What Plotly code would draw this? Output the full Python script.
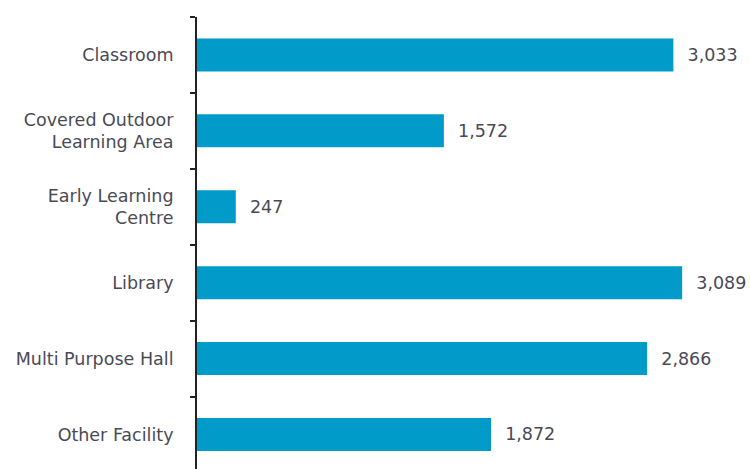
import plotly.graph_objects as go

categories = ["Classroom", "Covered Outdoor<br>Learning Area", "Early Learning<br>Centre",
              "Library", "Multi Purpose Hall", "Other Facility"]
values = [3033, 1572, 247, 3089, 2866, 1872]

fig = go.Figure(go.Bar(
    x=values,
    y=categories,
    orientation="h",
    marker=dict(color="#009BC8", line=dict(width=0)),
    width=0.435,
    texttemplate="  %{x:,}",
    textposition="outside",
    cliponaxis=False,
    textfont=dict(family="DejaVu Sans", size=17.5, color="#4a4a55"),
))

fig.update_layout(
    width=750, height=469,
    margin=dict(l=197, r=0, t=17, b=0, pad=0),
    paper_bgcolor="white", plot_bgcolor="white",
    showlegend=False,
    font=dict(family="DejaVu Sans", size=17.5, color="#4a4a55"),
    xaxis=dict(range=[0, 3521], showticklabels=False, showgrid=False,
               zeroline=False, showline=False, ticks=""),
    yaxis=dict(type="category", range=[5.455, -0.5], showline=True,
               linecolor="#222", linewidth=2, ticks="outside", tickson="boundaries",
               ticklen=5, tickwidth=2, tickcolor="#222", showgrid=False,
               ticklabelstandoff=18),
)

fig.write_html("out.html")
